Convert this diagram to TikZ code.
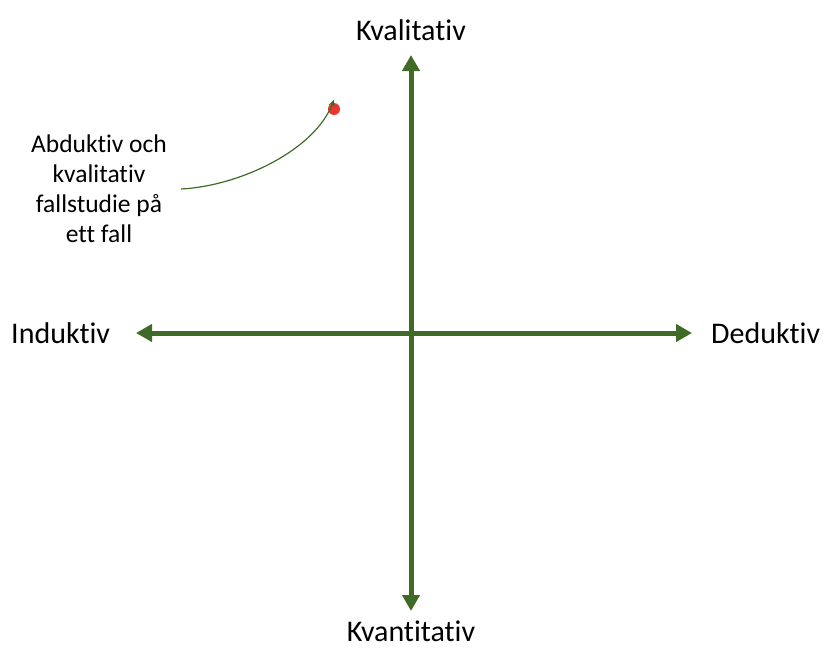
\documentclass[tikz,border=0pt]{standalone}
\usepackage{fontspec}
\setmainfont{Carlito}[Ligatures=NoCommon]
\usetikzlibrary{arrows.meta}
\definecolor{axisgreen}{HTML}{3F6B27}
\definecolor{dotred}{HTML}{E8372E}
\begin{document}
\begin{tikzpicture}[x=1pt,y=-1pt,
  axis/.style={draw=axisgreen,line width=5pt,{Triangle[length=16pt,width=17pt]}-{Triangle[length=16pt,width=17pt]}},
  axislabel/.style={font=\fontsize{30}{34}\selectfont,inner sep=0pt},
  note/.style={font=\fontsize{25.5}{30}\selectfont,align=center,inner sep=0pt},
  pointer/.style={draw=axisgreen,line width=1.2pt,-{Stealth[length=7pt,width=6pt]}}]
\useasboundingbox (0,0) rectangle (824,648);
% axis end points
\coordinate (top) at (411,55);
\coordinate (bottom) at (411,611);
\coordinate (left) at (136,333);
\coordinate (right) at (692,333);
\draw[axis] (top) -- (bottom);
\draw[axis] (left) -- (right);
% axis labels
\node[axislabel,anchor=base] (kval) at (411,40) {Kvalitativ};
\node[axislabel,anchor=base] (kvant) at (411,641) {Kvantitativ};
\node[axislabel,anchor=base west] (ind) at (11,343) {Induktiv};
\node[axislabel,anchor=base west] (ded) at (711,343) {Deduktiv};
% marked case and its description
\coordinate (dot) at (334,109);
\fill[dotred] (dot) circle (6pt);
\node[note] (case) at (99,189) {Abduktiv och\\kvalitativ\\fallstudie på\\ett fall};
\coordinate (start) at (181,189);
\draw[pointer] (start) .. controls (240,186) and (315,150) .. ([yshift=9.5pt]dot);
\end{tikzpicture}
\end{document}
